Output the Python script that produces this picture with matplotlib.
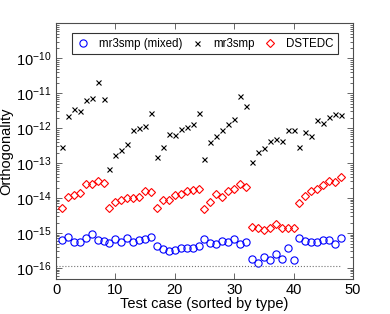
import numpy as np
import matplotlib
matplotlib.use("Agg")
import matplotlib.pyplot as plt
from matplotlib.ticker import LogLocator, FixedLocator, NullLocator, NullFormatter

plt.rcParams['font.family'] = ['Liberation Sans', 'DejaVu Sans']
plt.rcParams['mathtext.fontset'] = 'custom'
plt.rcParams['mathtext.rm'] = 'Liberation Sans'
plt.rcParams['mathtext.it'] = 'Liberation Sans:italic'
plt.rcParams['mathtext.bf'] = 'Liberation Sans:bold'

cases = list(range(1, 49))

# log10 of orthogonality values
mixed_log = [-15.19, -15.10, -15.25, -15.26, -15.15, -15.03, -15.19, -15.22,
             -15.29, -15.17, -15.25, -15.14, -15.26, -15.20, -15.17, -15.11,
             -15.36, -15.46, -15.51, -15.48, -15.44, -15.43, -15.42, -15.36,
             -15.17, -15.28, -15.31, -15.24, -15.27, -15.17, -15.30, -15.26,
             -15.73, -15.85, -15.69, -15.77, -15.60, -15.73, -15.42, -15.78,
             -15.15, -15.23, -15.26, -15.25, -15.19, -15.21, -15.30, -15.14]

mr3_log = [-12.53, -11.66, -11.45, -11.51, -11.19, -11.14, -10.67, -11.17,
           -13.17, -12.76, -12.62, -12.46, -12.05, -12.00, -11.95, -11.57,
           -12.83, -12.54, -12.16, -12.19, -12.02, -11.97, -11.88, -11.57,
           -12.88, -12.40, -12.21, -12.05, -11.88, -11.74, -11.08, -11.38,
           -12.97, -12.67, -12.57, -12.38, -12.31, -12.36, -12.05, -12.05,
           -12.53, -12.10, -12.21, -11.78, -11.86, -11.69, -11.59, -11.62]

dstedc_log = [-14.27, -13.97, -13.91, -13.86, -13.60, -13.59, -13.51, -13.56,
              -14.27, -14.10, -14.05, -14.01, -13.99, -13.97, -13.81, -13.84,
              -14.27, -14.05, -14.05, -13.92, -13.89, -13.81, -13.77, -13.74,
              -14.32, -14.10, -13.88, -13.97, -13.79, -13.73, -13.60, -13.68,
              -14.83, -14.87, -14.90, -14.85, -14.73, -14.85, -14.85, -14.86,
              -14.13, -13.93, -13.81, -13.74, -13.64, -13.51, -13.55, -13.39]

eps_half = 2.0 ** -53
x_ticks = [0, 10, 20, 30, 40, 50]

mixed = 10.0 ** np.array(mixed_log)
mr3 = 10.0 ** np.array(mr3_log)
dstedc = 10.0 ** np.array(dstedc_log)

fig = plt.figure(figsize=(3.9, 3.14), dpi=100)
ax = fig.add_axes([0.1436, 0.113, 0.905 - 0.1436, 0.9258 - 0.113])

ax.plot(cases, mixed, linestyle='none', marker='o', markersize=5.2,
        markerfacecolor='none', markeredgecolor='blue', markeredgewidth=0.8,
        label='mr3smp (mixed)')
ax.plot(cases, mr3, linestyle='none', marker='x', markersize=3.6,
        color='black', markeredgewidth=0.8, label='mr3smp')
ax.plot(cases, dstedc, linestyle='none', marker='D', markersize=4.3,
        markerfacecolor='none', markeredgecolor='red', markeredgewidth=0.8,
        label='DSTEDC')
ax.plot([0, 48], [eps_half, eps_half], linestyle=':', color='0.45', lw=0.8)

ax.set_yscale('log')
ax.set_xlim(0, 50)
ax.set_ylim(5e-17, 1e-9)
ax.xaxis.set_major_locator(FixedLocator(x_ticks))
ax.xaxis.set_minor_locator(NullLocator())
ax.yaxis.set_major_locator(FixedLocator([1e-16, 1e-15, 1e-14, 1e-13, 1e-12, 1e-11, 1e-10]))
ax.yaxis.set_minor_locator(LogLocator(base=10, subs=np.arange(2, 10), numticks=20))
ax.yaxis.set_minor_formatter(NullFormatter())

ax.tick_params(which='both', direction='in', top=True, right=True,
               labelsize=10.5, color='0.3', width=0.6)
ax.tick_params(which='major', length=4)
ax.tick_params(which='minor', length=2)
for s in ax.spines.values():
    s.set_linewidth(0.8)
    s.set_color('0.3')

ax.set_xlabel('Test case (sorted by type)', fontsize=10.5, labelpad=0)
ax.set_ylabel('Orthogonality', fontsize=10.5, labelpad=2)

leg = ax.legend(loc='upper center', ncol=3, fontsize=8.3, frameon=True,
                fancybox=False, borderaxespad=0.84, handletextpad=0.89,
                columnspacing=0.8, handlelength=1.0, borderpad=0.4,
                bbox_to_anchor=(0.502, 1.0))
leg.get_frame().set_edgecolor('black')
leg.get_frame().set_linewidth(0.8)

fig.savefig('out.png', dpi=100)
